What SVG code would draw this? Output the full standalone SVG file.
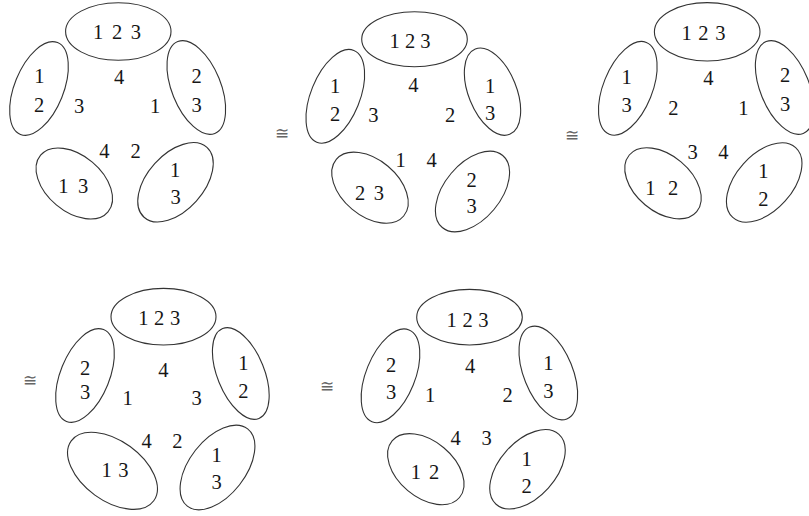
<svg xmlns="http://www.w3.org/2000/svg" width="809" height="516" viewBox="0 0 809 516">
<style>
.e{fill:none;stroke:#333;stroke-width:1.1}
.t{font-family:"Liberation Serif","Times New Roman",serif;font-size:20.5px;fill:#161616;text-anchor:middle}
.c{font-family:"DejaVu Serif","Liberation Serif",serif;font-size:17px;fill:#666;text-anchor:middle}
</style>
<rect width="809" height="516" fill="#fff"/>
<g id="diagram1">
  <g id="d1-top"><ellipse class="e" cx="118.3" cy="31.5" rx="52.7" ry="28.8"/><text class="t" x="117" y="39.3" word-spacing="3.5">1 2 3</text></g>
  <g id="d1-left"><ellipse class="e" cx="39" cy="88.5" rx="24.5" ry="49.5" transform="rotate(22 39 88.5)"/><text class="t" x="39.3" y="83.3">1</text><text class="t" x="39" y="112.3">2</text></g>
  <g id="d1-right"><ellipse class="e" cx="196.3" cy="87.5" rx="24.5" ry="49.5" transform="rotate(-22 196.3 87.5)"/><text class="t" x="196.7" y="82.7">2</text><text class="t" x="196.7" y="111.7">3</text></g>
  <g id="d1-bl"><ellipse class="e" cx="74.3" cy="183.5" rx="44" ry="28" transform="rotate(40 74.3 183.5)"/><text class="t" x="73.3" y="193.3" word-spacing="4.5">1 3</text></g>
  <g id="d1-br"><ellipse class="e" cx="175.5" cy="182.3" rx="47" ry="28" transform="rotate(-48 175.5 182.3)"/><text class="t" x="175" y="176.7">1</text><text class="t" x="175.7" y="204">3</text></g>
  <g id="d1-inner"><text class="t" x="119" y="84.3">4</text><text class="t" x="79" y="113.3">3</text><text class="t" x="155" y="113.3">1</text><text class="t" x="104.3" y="158.3">4</text><text class="t" x="135.7" y="158.3">2</text></g>
</g>
<g id="diagram2">
  <text class="c" x="281.5" y="139">≅</text>
  <g id="d2-top"><ellipse class="e" cx="414.5" cy="39.2" rx="52.8" ry="27.5"/><text class="t" x="410" y="48.3">1 2 3</text></g>
  <g id="d2-left"><ellipse class="e" cx="335.3" cy="96.3" rx="24.5" ry="49.5" transform="rotate(22 335.3 96.3)"/><text class="t" x="335" y="93.3">1</text><text class="t" x="335" y="120.7">2</text></g>
  <g id="d2-right"><ellipse class="e" cx="492.5" cy="91.7" rx="24" ry="46" transform="rotate(-22 492.5 91.7)"/><text class="t" x="490" y="93.3">1</text><text class="t" x="490" y="120">3</text></g>
  <g id="d2-bl"><ellipse class="e" cx="370" cy="187.7" rx="44" ry="28" transform="rotate(40 370 187.7)"/><text class="t" x="369.5" y="200" word-spacing="3.5">2 3</text></g>
  <g id="d2-br"><ellipse class="e" cx="472.5" cy="191.5" rx="47" ry="28" transform="rotate(-50 472.5 191.5)"/><text class="t" x="471.7" y="186.7">2</text><text class="t" x="471.7" y="213.3">3</text></g>
  <g id="d2-inner"><text class="t" x="413.3" y="91.7">4</text><text class="t" x="373.3" y="121.7">3</text><text class="t" x="450" y="121.7">2</text><text class="t" x="400.7" y="166.7">1</text><text class="t" x="431.7" y="166.7">4</text></g>
</g>
<g id="diagram3">
  <text class="c" x="571.7" y="141">≅</text>
  <g id="d3-top"><ellipse class="e" cx="707.2" cy="31.8" rx="52.8" ry="29.2"/><text class="t" x="703.5" y="40" word-spacing="1.4">1 2 3</text></g>
  <g id="d3-left"><ellipse class="e" cx="627.8" cy="88.3" rx="24.5" ry="49.5" transform="rotate(22 627.8 88.3)"/><text class="t" x="626.7" y="84">1</text><text class="t" x="626.7" y="112.3">3</text></g>
  <g id="d3-right"><ellipse class="e" cx="784.7" cy="87.5" rx="24.5" ry="49.5" transform="rotate(-22 784.7 87.5)"/><text class="t" x="785" y="82.3">2</text><text class="t" x="785" y="111">3</text></g>
  <g id="d3-bl"><ellipse class="e" cx="663" cy="183.3" rx="44" ry="28" transform="rotate(40 663 183.3)"/><text class="t" x="661.7" y="195" word-spacing="7.5">1 2</text></g>
  <g id="d3-br"><ellipse class="e" cx="764.2" cy="182.5" rx="47" ry="28" transform="rotate(-48 764.2 182.5)"/><text class="t" x="763.3" y="178.3">1</text><text class="t" x="763.3" y="206">2</text></g>
  <g id="d3-inner"><text class="t" x="708.3" y="85">4</text><text class="t" x="673.3" y="115">2</text><text class="t" x="743.3" y="115">1</text><text class="t" x="692.7" y="159.3">3</text><text class="t" x="723.3" y="159.3">4</text></g>
</g>
<g id="diagram4">
  <text class="c" x="30" y="386">≅</text>
  <g id="d4-top"><ellipse class="e" cx="163.5" cy="316.7" rx="52.5" ry="28.3"/><text class="t" x="159.2" y="325" word-spacing="0.5">1 2 3</text></g>
  <g id="d4-left"><ellipse class="e" cx="85" cy="375.5" rx="24.5" ry="49.5" transform="rotate(22 85 375.5)"/><text class="t" x="85" y="375">2</text><text class="t" x="85" y="399">3</text></g>
  <g id="d4-right"><ellipse class="e" cx="240.8" cy="373.5" rx="23.5" ry="48.5" transform="rotate(-22 240.8 373.5)"/><text class="t" x="243.3" y="370">1</text><text class="t" x="243.3" y="398.3">2</text></g>
  <g id="d4-bl"><ellipse class="e" cx="112.5" cy="470.8" rx="51" ry="30" transform="rotate(36 112.5 470.8)"/><text class="t" x="115" y="476.7" word-spacing="1.4">1 3</text></g>
  <g id="d4-br"><ellipse class="e" cx="217.5" cy="467.5" rx="49" ry="28" transform="rotate(-52 217.5 467.5)"/><text class="t" x="216.7" y="461.7">1</text><text class="t" x="216.7" y="489.3">3</text></g>
  <g id="d4-inner"><text class="t" x="163.3" y="376.7">4</text><text class="t" x="127.7" y="405">1</text><text class="t" x="196.7" y="405">3</text><text class="t" x="146.7" y="448.3">4</text><text class="t" x="177.3" y="448.3">2</text></g>
</g>
<g id="diagram5">
  <text class="c" x="326.7" y="391.5">≅</text>
  <g id="d5-top"><ellipse class="e" cx="469.5" cy="317.2" rx="52.8" ry="27.8"/><text class="t" x="467.5" y="326.7" word-spacing="0.5">1 2 3</text></g>
  <g id="d5-left"><ellipse class="e" cx="390.5" cy="375.8" rx="24.5" ry="49.5" transform="rotate(22 390.5 375.8)"/><text class="t" x="391" y="371.7">2</text><text class="t" x="391" y="399">3</text></g>
  <g id="d5-right"><ellipse class="e" cx="548.3" cy="373" rx="24.5" ry="49.5" transform="rotate(-22 548.3 373)"/><text class="t" x="548.3" y="370">1</text><text class="t" x="548.3" y="398.3">3</text></g>
  <g id="d5-bl"><ellipse class="e" cx="425.8" cy="469.2" rx="44" ry="28" transform="rotate(40 425.8 469.2)"/><text class="t" x="425" y="479" word-spacing="3">1 2</text></g>
  <g id="d5-br"><ellipse class="e" cx="527.5" cy="469.3" rx="47" ry="28" transform="rotate(-48 527.5 469.3)"/><text class="t" x="526.7" y="465.7">1</text><text class="t" x="526.7" y="493.3">2</text></g>
  <g id="d5-inner"><text class="t" x="470" y="373.3">4</text><text class="t" x="430" y="401.7">1</text><text class="t" x="507.7" y="401.7">2</text><text class="t" x="455.7" y="445">4</text><text class="t" x="486.7" y="445">3</text></g>
</g>
</svg>
